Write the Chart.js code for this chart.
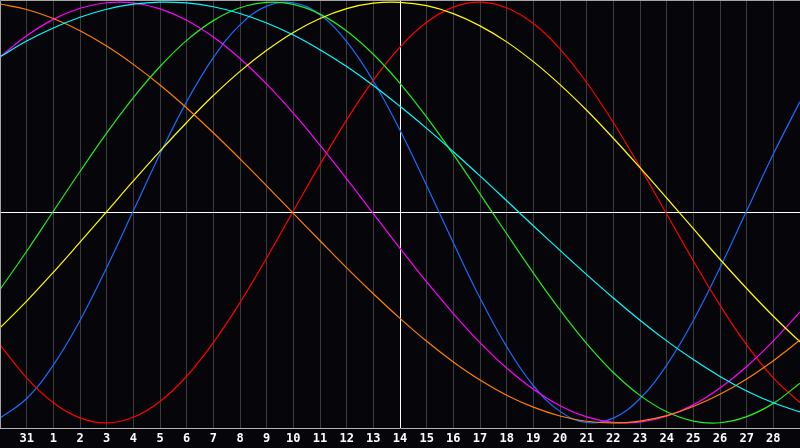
<!DOCTYPE html>
<html>
<head>
<meta charset="utf-8">
<script src="https://cdn.jsdelivr.net/npm/chart.js@4/dist/chart.umd.min.js"></script>
<style>
  html, body { margin: 0; padding: 0; background: #060509; }
  #wrap { width: 800px; height: 448px; position: relative; }
</style>
</head>
<body>
<div id="wrap"><canvas id="bioChart"></canvas></div>
<script>
// day positions 0..30, the first one is the 30th of the previous month
var days = [0,1,2,3,4,5,6,7,8,9,10,11,12,13,14,15,16,17,18,19,20,21,22,23,24,25,26,27,28,29,30];
// tick labels under the grid lines 1..29
var dayLabels = ["31","1","2","3","4","5","6","7","8","9","10","11","12","13","14","15","16","17","18","19","20","21","22","23","24","25","26","27","28"];

// curves
var physical = [-0.977,-0.884,-0.725,-0.513,-0.262,0.008,0.278,0.527,0.736,0.892,0.981,0.997,0.940,0.812,0.625,0.391,0.128,-0.144,-0.406,-0.637,-0.822,-0.945,-0.998,-0.977,-0.884,-0.725,-0.513,-0.262,0.008,0.278,0.527];
var emotional = [-0.629,-0.786,-0.904,-0.976,-1.0,-0.973,-0.898,-0.778,-0.618,-0.428,-0.216,0.007,0.229,0.440,0.629,0.786,0.904,0.976,1.0,0.973,0.898,0.778,0.618,0.428,0.216,-0.007,-0.229,-0.440,-0.629,-0.786,-0.904];
var intellectual = [-0.366,-0.184,0.006,0.195,0.377,0.546,0.694,0.818,0.912,0.973,0.999,0.989,0.943,0.863,0.752,0.614,0.453,0.276,0.089,-0.101,-0.287,-0.463,-0.623,-0.760,-0.869,-0.947,-0.991,-0.999,-0.970,-0.907,-0.811];
var intuitive = [0.739,0.840,0.918,0.971,0.997,0.996,0.968,0.914,0.834,0.732,0.610,0.472,0.320,0.160,-0.005,-0.170,-0.330,-0.480,-0.618,-0.739,-0.840,-0.918,-0.971,-0.997,-0.996,-0.968,-0.914,-0.834,-0.732,-0.610,-0.472];
var aesthetic = [-0.548,-0.421,-0.284,-0.141,0.004,0.150,0.292,0.428,0.556,0.671,0.771,0.856,0.922,0.969,0.995,0.999,0.983,0.945,0.887,0.811,0.717,0.608,0.486,0.353,0.213,0.069,-0.077,-0.222,-0.361,-0.493,-0.615];
var awareness = [0.991,0.965,0.922,0.864,0.791,0.704,0.606,0.497,0.379,0.255,0.127,-0.004,-0.134,-0.263,-0.386,-0.503,-0.612,-0.710,-0.796,-0.868,-0.925,-0.967,-0.992,-1.0,-0.991,-0.965,-0.922,-0.864,-0.791,-0.704,-0.606];
var spiritual = [0.740,0.815,0.877,0.928,0.966,0.990,1.0,0.996,0.978,0.946,0.901,0.844,0.774,0.694,0.604,0.505,0.400,0.289,0.174,0.056,-0.063,-0.180,-0.295,-0.406,-0.512,-0.610,-0.699,-0.779,-0.848,-0.904,-0.948];

function pts(vals) {
  return days.map(function (d, i) { return { x: d, y: vals[i] }; });
}

function line(vals, color) {
  return {
    data: pts(vals),
    borderColor: color,
    borderWidth: 1.2,
    pointRadius: 0,
    tension: 0.4,
    fill: false
  };
}

// top and left frame lines
var frame = {
  id: 'frame',
  afterDraw: function (chart) {
    var a = chart.chartArea, c = chart.ctx;
    c.save();
    c.strokeStyle = '#a4a4a4';
    c.lineWidth = 1;
    c.beginPath();
    c.moveTo(a.left + 0.5, a.bottom);
    c.lineTo(a.left + 0.5, a.top + 0.5);
    c.lineTo(a.right, a.top + 0.5);
    c.stroke();
    c.restore();
  }
};

var ctx = document.getElementById("bioChart");
var bioChart = new Chart(ctx, {
  type: 'line',
  data: {
    // first dataset is drawn on top
    datasets: [
      line(spiritual, '#00ffff'),
      line(awareness, '#ff8000'),
      line(aesthetic, '#ffff00'),
      line(intuitive, '#ff00ff'),
      line(intellectual, '#22ee22'),
      line(emotional, '#ff0000'),
      line(physical, '#1a6cff')
    ]
  },
  plugins: [frame],
  options: {
    responsive: true,
    maintainAspectRatio: false,
    devicePixelRatio: 1,
    animation: false,
    layout: { padding: 0 },
    plugins: { legend: { display: false }, tooltip: { enabled: false } },
    scales: {
      x: {
        type: 'linear',
        min: 0,
        max: 30,
        afterBuildTicks: function (scale) {
          scale.ticks = days.slice(1, 30).map(function (d) { return { value: d }; });
        },
        afterFit: function (scale) { scale.height = 20; },
        grid: {
          drawTicks: false,
          color: function (c) { return c.tick && c.tick.value === 15 ? '#ffffff' : '#3c3c3c'; }
        },
        border: { color: '#b4b4b4' },
        ticks: {
          autoSkip: false,
          maxRotation: 0,
          padding: 4,
          color: '#ffffff',
          font: { family: 'DejaVu Sans Mono', size: 12, weight: 'bold' },
          callback: function (v) { return dayLabels[v - 1]; }
        }
      },
      y: {
        min: -1.024,
        max: 1.01,
        afterBuildTicks: function (scale) { scale.ticks = [{ value: 0 }]; },
        grid: { drawTicks: false, color: '#ffffff' },
        border: { display: false },
        ticks: { display: false }
      }
    }
  }
});
</script>
</body>
</html>
